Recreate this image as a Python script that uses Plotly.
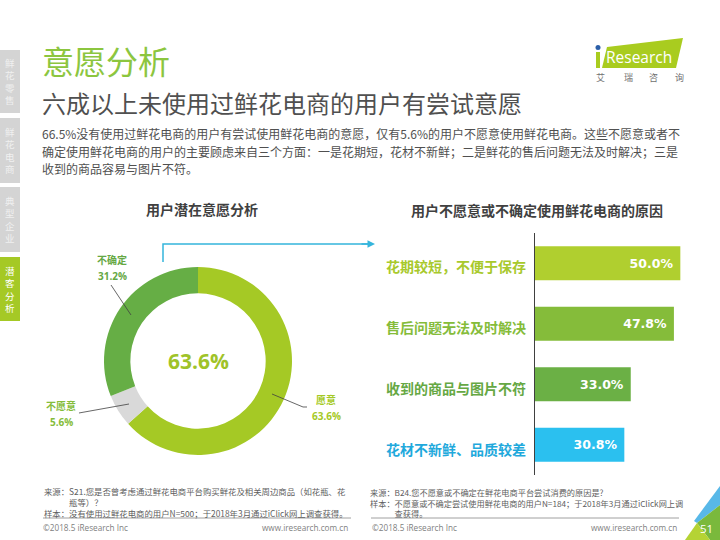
import plotly.graph_objects as go

W, H = 720, 540
CJK = "Noto Sans CJK SC"

# Data
donut_labels = ["愿意", "不愿意", "不确定"]
donut_values = [63.6, 5.6, 31.2]
donut_colors = ["#a5c925", "#d9d9d9", "#66ae45"]

reason_labels = ["花期较短，不便于保存", "售后问题无法及时解决", "收到的商品与图片不符", "花材不新鲜、品质较差"]
reason_values = [50.0, 47.8, 33.0, 30.8]
reason_colors = ["#b0cf2f", "#85bc3a", "#6bb045", "#2bc0ef"]
reason_label_colors = ["#a8c92c", "#85bc3a", "#66a844", "#1fa9dc"]

tabs = ["鲜花零售", "鲜花电商", "典型企业", "潜客分析"]
body_lines = [
    "66.5%没有使用过鲜花电商的用户有尝试使用鲜花电商的意愿，仅有5.6%的用户不愿意使用鲜花电商。这些不愿意或者不",
    "确定使用鲜花电商的用户的主要顾虑来自三个方面：一是花期短，花材不新鲜；二是鲜花的售后问题无法及时解决；三是",
    "收到的商品容易与图片不符。",
]
note_left = [
    "来源：S21.您是否曾考虑通过鲜花电商平台购买鲜花及相关周边商品（如花瓶、花",
    "　　　瓶等）？",
    "样本：没有使用过鲜花电商的用户N=500；于2018年3月通过iClick网上调查获得。",
]
note_right = [
    "来源：B24.您不愿意或不确定在鲜花电商平台尝试消费的原因是?",
    "样本：不愿意或不确定尝试使用鲜花电商的用户N=184；于2018年3月通过iClick网上调",
    "　　　查获得。",
]


def px(x):
    return x / W


def py(y):
    return 1 - y / H


fig = go.Figure()
fig.add_trace(go.Pie(
    labels=donut_labels, values=donut_values, hole=0.72, sort=False,
    direction="clockwise", rotation=0, textinfo="none", showlegend=False,
    marker=dict(colors=donut_colors, line=dict(width=0)),
    domain=dict(x=[px(104), px(292)], y=[py(455), py(267)]),
))
fig.add_trace(go.Bar(
    x=reason_values, y=reason_labels, orientation="h", width=0.56,
    marker=dict(color=reason_colors, line=dict(width=0)),
    text=[f"{v:.1f}%\u00a0" for v in reason_values], textposition="inside",
    insidetextanchor="end", textangle=0,
    textfont=dict(family="DejaVu Sans", size=12.5, color="white", weight="bold"),
    showlegend=False, xaxis="x", yaxis="y",
))

ann = []


def text(x, y, s, size, color, anchor="left", bold=False, family=CJK):
    ann.append(dict(
        x=px(x), y=py(y), xref="paper", yref="paper", text=f"<b>{s}</b>" if bold else s,
        showarrow=False, xanchor=anchor, yanchor="middle", align=anchor,
        font=dict(family=family, size=size, color=color),
    ))


text(40, 60, "意愿分析", 32, "#8cc63f")
text(40, 102, "六成以上未使用过鲜花电商的用户有尝试意愿", 24, "#505050")
for i, line in enumerate(body_lines):
    text(40, 134 + i * 17.5, line, 12, "#505050")

text(202, 209, "用户潜在意愿分析", 14, "#404040", "center", True)
text(537, 210, "用户不愿意或不确定使用鲜花电商的原因", 14, "#404040", "center", True)

text(198, 361, "63.6%", 21, "#9fc329", "center", True, "Open Sans")
text(112, 259, donut_labels[2], 10, "#66a844", "center", True)
text(112, 276, f"{donut_values[2]}%", 10, "#66a844", "center", True, "Open Sans")
text(61, 405, donut_labels[1], 10, "#85bc3a", "center", True)
text(61, 422, f"{donut_values[1]}%", 10, "#85bc3a", "center", True, "Open Sans")
text(326, 399, donut_labels[0], 10, "#a5c925", "center", True)
text(326, 416, f"{donut_values[0]}%", 10, "#a5c925", "center", True, "Open Sans")

for i, lab in enumerate(reason_labels):
    text(528, 265.5 + i * 61, lab, 14, reason_label_colors[i], "right", True)

# Footnotes
fn = "#606060"
text(42, 502, "<br>".join(note_left), 8.4, fn)
text(368, 502, "<br>".join(note_right), 8.2, fn)
text(41, 527.5, "©2018.5 iResearch Inc", 8.2, "#808080", family="Open Sans")
text(350, 527.5, "www.iresearch.com.cn", 8.2, "#808080", "right", family="Open Sans")
text(370, 527.5, "©2018.5 iResearch Inc", 8.2, "#808080", family="Open Sans")
text(679, 527.5, "www.iresearch.com.cn", 8.2, "#808080", "right", family="Open Sans")
text(706, 528, "51", 11.5, "white", "center", family="Open Sans")

# Logo text
text(604, 57, "Research", 15.5, "white", family="Open Sans")
for cx, ch in zip([600, 628, 653, 679], "艾瑞咨询"):
    text(cx, 77, ch, 9, "#707070", "center")

# Side tabs
tab_spans = [(50, 113), (118, 183), (187, 252), (257, 321)]
for i, (t, (y0, y1)) in enumerate(zip(tabs, tab_spans)):
    ann.append(dict(
        x=px(10), y=py((y0 + y1) / 2), xref="paper", yref="paper",
        text="<br>".join(t), showarrow=False, xanchor="center", yanchor="middle",
        font=dict(family=CJK, size=9.5, color="white" if i == 3 else "#f0f0f0"),
    ))

# Arrow head
ann.append(dict(
    x=px(375), y=py(244), ax=-15, ay=0, xref="paper", yref="paper",
    axref="pixel", ayref="pixel", text="", showarrow=True, arrowhead=2,
    arrowsize=1, arrowwidth=1.5, arrowcolor="#35b5dc",
))

shapes = []


def rect(x0, y0, x1, y1, color):
    shapes.append(dict(type="rect", xref="paper", yref="paper", x0=px(x0), x1=px(x1),
                       y0=py(y0), y1=py(y1), fillcolor=color, line=dict(width=0), layer="below"))


def poly(points, fill=None, line=None, width=1):
    path = "M " + " L ".join(f"{px(a):.5f},{py(b):.5f}" for a, b in points)
    if fill:
        path += " Z"
    shapes.append(dict(type="path", xref="paper", yref="paper", path=path,
                       fillcolor=fill or "rgba(0,0,0,0)",
                       line=dict(color=line or "rgba(0,0,0,0)", width=width if line else 0),
                       layer="below"))


for i, (y0, y1) in enumerate(tab_spans):
    rect(0, y0, 20, y1, "#a5c925" if i == 3 else "#d4d4d4")

# Logo
poly([(607, 47), (683, 38), (676, 68), (602, 68)], fill="#a9cc1f")
poly([(596, 52), (600, 52), (600, 68), (596, 68)], fill="#a9cc1f")
shapes.append(dict(type="circle", xref="paper", yref="paper", x0=px(595.5), x1=px(600.5),
                   y0=py(50), y1=py(45), fillcolor="#2b5fa8", line=dict(width=0), layer="below"))

# Connector
poly([(163, 262), (163, 244), (373, 244)], line="#35b5dc", width=1.5)

# Footer rules
poly([(43, 518), (351, 518)], line="#a0a0a0", width=1)
poly([(371, 518), (679, 518)], line="#a0a0a0", width=1)

# Corner
poly([(694, 521), (720, 486), (720, 505), (697, 523)], fill="#58b8e8")
poly([(697, 523), (720, 505), (720, 540), (710, 540)], fill="#7ab93c")
poly([(697, 523), (710, 540), (685, 540)], fill="#b5d334")


def above(points):
    path = "M " + " L ".join(f"{px(a):.5f},{py(b):.5f}" for a, b in points)
    shapes.append(dict(type="path", xref="paper", yref="paper", path=path,
                       fillcolor="rgba(0,0,0,0)", line=dict(color="#404040", width=0.8),
                       layer="above"))


# Leaders
above([(111, 285), (131, 315)])
above([(79, 413), (129, 404)])
above([(272, 394), (303, 407), (307, 407)])

fig.update_layout(
    width=W, height=H, margin=dict(l=0, r=0, t=0, b=0),
    paper_bgcolor="white", plot_bgcolor="rgba(0,0,0,0)",
    annotations=ann, shapes=shapes,
    xaxis=dict(domain=[px(534.5), px(709.5)], range=[0, 60], visible=False, fixedrange=True),
    yaxis=dict(domain=[py(475), py(233)], autorange="reversed", type="category",
               showticklabels=False, ticks="", showgrid=False, showline=True,
               linecolor="#404040", linewidth=1, anchor="x", zeroline=False),
    font=dict(family=CJK),
)

fig.write_html("out.html", config=dict(displayModeBar=False),
               post_script="document.body.style.margin='0';")
